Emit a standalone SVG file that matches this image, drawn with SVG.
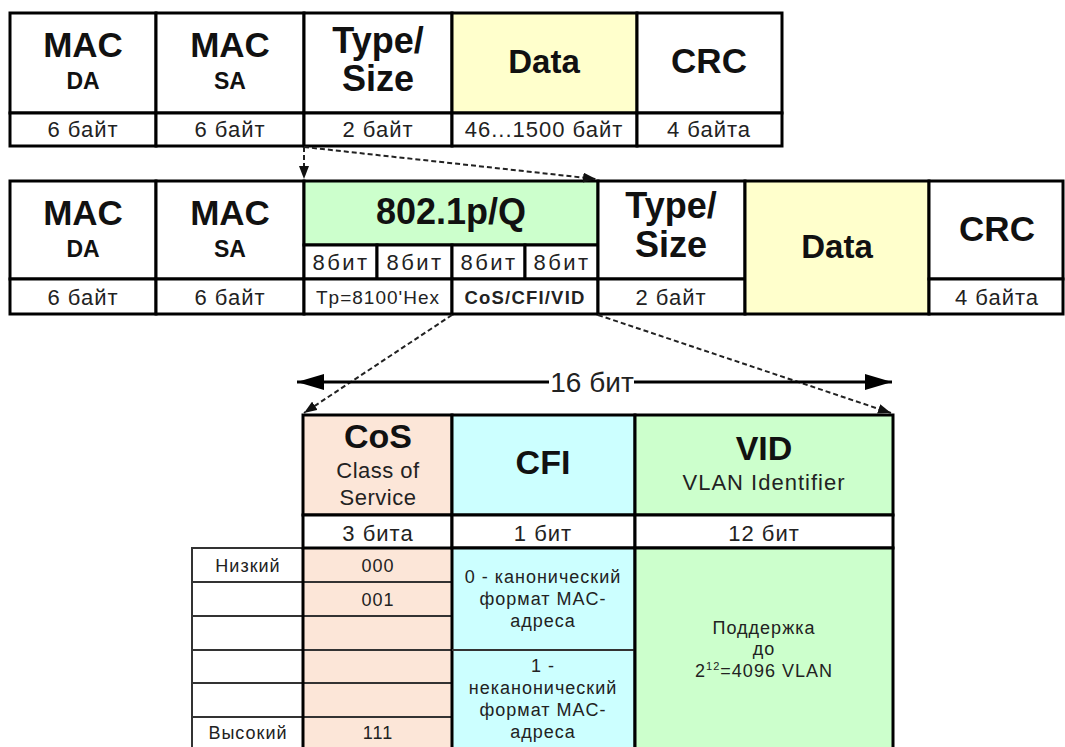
<svg xmlns="http://www.w3.org/2000/svg" width="1065" height="747" viewBox="0 0 1065 747">
<style>
.c{stroke:#000;stroke-width:3;fill:#fff}
.y{fill:#ffffcc}
.g{fill:#ccffcc}
.b{fill:#ccffff}
.p{fill:#fce6d8}
.t{stroke:#333;stroke-width:2}
text{font-family:"Liberation Sans",Arial,sans-serif;text-anchor:middle;fill:#222}
.h{font-weight:bold;font-size:35px;fill:#111}
.s{font-weight:bold;font-size:23px;fill:#111}
.l{font-size:22px;letter-spacing:1px}
.e{font-size:22px;letter-spacing:2.5px}
.m{font-size:19px;letter-spacing:1px}
.k{font-size:18px;letter-spacing:1px}
.d{fill:none;stroke:#222;stroke-width:2;stroke-dasharray:5 3}
.a{fill:none;stroke:#000;stroke-width:3}
</style>
<defs>
<marker id="ah" markerUnits="userSpaceOnUse" markerWidth="13" markerHeight="10" refX="13" refY="5" orient="auto"><path d="M0,0 L13,5 L0,10 z" fill="#111"/></marker>
<marker id="big" markerUnits="userSpaceOnUse" markerWidth="27" markerHeight="16" refX="27" refY="8" orient="auto"><path d="M0,0 L27,8 L0,16 z" fill="#000"/></marker>
</defs>
<rect width="1065" height="747" fill="#fff"/>

<g id="frame1-mac-da">
<rect class="c" x="10" y="13" width="146" height="100"/><rect class="c" x="10" y="113" width="146" height="33"/>
<text class="h" x="83" y="57">MAC</text><text class="s" x="83" y="89">DA</text>
<text class="l" x="83" y="137">6 байт</text>
</g>
<g id="frame1-mac-sa">
<rect class="c" x="156" y="13" width="148" height="100"/><rect class="c" x="156" y="113" width="148" height="33"/>
<text class="h" x="230" y="57">MAC</text><text class="s" x="230" y="89">SA</text>
<text class="l" x="230" y="137">6 байт</text>
</g>
<g id="frame1-type">
<rect class="c" x="304" y="13" width="148" height="100"/><rect class="c" x="304" y="113" width="148" height="33"/>
<text class="h" x="378" y="53" style="font-size:36px">Type/</text><text class="h" x="378" y="91" style="font-size:36px">Size</text>
<text class="l" x="378" y="137">2 байт</text>
</g>
<g id="frame1-data">
<rect class="c y" x="452" y="13" width="185" height="100"/><rect class="c" x="452" y="113" width="185" height="33"/>
<text class="h" x="544" y="73" style="font-size:33px">Data</text>
<text class="l" x="544" y="137">46...1500 байт</text>
</g>
<g id="frame1-crc">
<rect class="c" x="637" y="13" width="145" height="100"/><rect class="c" x="637" y="113" width="145" height="33"/>
<text class="h" x="709" y="73">CRC</text>
<text class="l" x="709" y="137">4 байта</text>
</g>

<g id="frame2-mac-da">
<rect class="c" x="10" y="181" width="146" height="98"/><rect class="c" x="10" y="279" width="146" height="35"/>
<text class="h" x="83" y="225">MAC</text><text class="s" x="83" y="257">DA</text>
<text class="l" x="83" y="305">6 байт</text>
</g>
<g id="frame2-mac-sa">
<rect class="c" x="156" y="181" width="148" height="98"/><rect class="c" x="156" y="279" width="148" height="35"/>
<text class="h" x="230" y="225">MAC</text><text class="s" x="230" y="257">SA</text>
<text class="l" x="230" y="305">6 байт</text>
</g>
<g id="frame2-tag">
<rect class="c g" x="304" y="181" width="294" height="64"/>
<rect class="c" x="304" y="245" width="73" height="34"/><rect class="c" x="377" y="245" width="75" height="34"/>
<rect class="c" x="452" y="245" width="73" height="34"/><rect class="c" x="525" y="245" width="73" height="34"/>
<rect class="c" x="304" y="279" width="148" height="35"/><rect class="c" x="452" y="279" width="146" height="35"/>
<text class="h" x="451" y="224" style="font-size:36px">802.1p/Q</text>
<text class="e" x="341" y="270">8бит</text><text class="e" x="415" y="270">8бит</text>
<text class="e" x="489" y="270">8бит</text><text class="e" x="562" y="270">8бит</text>
<text class="m" x="378" y="304">Tp=8100'Hex</text>
<text class="m" x="525" y="304" style="font-weight:bold;font-size:18.5px;letter-spacing:1.2px">CoS/CFI/VID</text>
</g>
<g id="frame2-type">
<rect class="c" x="598" y="181" width="147" height="98"/><rect class="c" x="598" y="279" width="147" height="35"/>
<text class="h" x="671" y="218" style="font-size:36px">Type/</text><text class="h" x="671" y="257" style="font-size:36px">Size</text>
<text class="l" x="671" y="305">2 байт</text>
</g>
<g id="frame2-data">
<rect class="c y" x="745" y="181" width="184" height="133"/>
<text class="h" x="837" y="258" style="font-size:33px">Data</text>
</g>
<g id="frame2-crc">
<rect class="c" x="929" y="181" width="134" height="98"/><rect class="c" x="929" y="279" width="134" height="35"/>
<text class="h" x="997" y="241">CRC</text>
<text class="l" x="997" y="305">4 байта</text>
</g>

<g id="priority-table">
<rect class="t" x="192" y="548" width="111" height="34" fill="#fff"/>
<rect class="t" x="192" y="582" width="111" height="34" fill="#fff"/>
<rect class="t" x="192" y="616" width="111" height="34" fill="#fff"/>
<rect class="t" x="192" y="650" width="111" height="33" fill="#fff"/>
<rect class="t" x="192" y="683" width="111" height="34" fill="#fff"/>
<rect class="t" x="192" y="717" width="111" height="40" fill="#fff"/>
<rect class="t p" x="303" y="548" width="149" height="34"/>
<rect class="t p" x="303" y="582" width="149" height="34"/>
<rect class="t p" x="303" y="616" width="149" height="34"/>
<rect class="t p" x="303" y="650" width="149" height="33"/>
<rect class="t p" x="303" y="683" width="149" height="34"/>
<rect class="t p" x="303" y="717" width="149" height="40"/>
<text class="k" x="248" y="572">Низкий</text>
<text class="k" x="378" y="572">000</text>
<text class="k" x="378" y="606">001</text>
<text class="k" x="248" y="739">Высокий</text>
<text class="k" x="378" y="739">111</text>
</g>
<g id="cos">
<rect class="c p" x="303" y="415" width="149" height="100"/>
<rect class="c" x="303" y="515" width="149" height="33"/>
<line x1="303" y1="548" x2="303" y2="760" stroke="#000" stroke-width="3"/>
<text class="h" x="378" y="448" style="font-size:34px">CoS</text>
<text class="l" x="378" y="478" style="font-size:22px;letter-spacing:0.5px">Class of</text>
<text class="l" x="378" y="505" style="font-size:22px;letter-spacing:0.5px">Service</text>
<text class="l" x="378" y="541">3 бита</text>
</g>
<g id="cfi">
<rect class="c b" x="452" y="415" width="183" height="100"/>
<rect class="c" x="452" y="515" width="183" height="33"/>
<rect class="b" x="452" y="548" width="183" height="210" stroke="#000" stroke-width="3"/>
<line class="t" x1="452" y1="650" x2="635" y2="650" stroke="#777"/>
<text class="h" x="543" y="474" style="font-size:34px">CFI</text>
<text class="l" x="543" y="541">1 бит</text>
<text class="k" x="543" y="583">0 - канонический</text>
<text class="k" x="543" y="605">формат MAC-</text>
<text class="k" x="543" y="627">адреса</text>
<text class="k" x="543" y="672">1 -</text>
<text class="k" x="543" y="694">неканонический</text>
<text class="k" x="543" y="716">формат MAC-</text>
<text class="k" x="543" y="738">адреса</text>
</g>
<g id="vid">
<rect class="c g" x="635" y="415" width="258" height="100"/>
<rect class="c" x="635" y="515" width="258" height="33"/>
<rect class="c g" x="635" y="548" width="258" height="210"/>
<text class="h" x="764" y="460" style="font-size:34px">VID</text>
<text class="l" x="764" y="490">VLAN Identifier</text>
<text class="l" x="764" y="541">12 бит</text>
<text class="k" x="764" y="634">Поддержка</text>
<text class="k" x="764" y="655">до</text>
<text class="k" x="764" y="677">2<tspan dy="-7" style="font-size:11px">12</tspan><tspan dy="7">=4096 VLAN</tspan></text>
</g>

<g id="connectors">
<line class="d" x1="304" y1="147" x2="304" y2="179" marker-end="url(#ah)"/>
<line class="d" x1="304" y1="147" x2="596" y2="179" marker-end="url(#ah)"/>
<line class="d" x1="452" y1="315" x2="304" y2="413" marker-end="url(#ah)"/>
<line class="d" x1="598" y1="315" x2="891" y2="413" marker-end="url(#ah)"/>
<line class="a" x1="549" y1="382" x2="297" y2="382" marker-end="url(#big)"/>
<line class="a" x1="634" y1="382" x2="892" y2="382" marker-end="url(#big)"/>
<text x="592" y="392" style="font-size:28px">16 бит</text>
</g>
</svg>
